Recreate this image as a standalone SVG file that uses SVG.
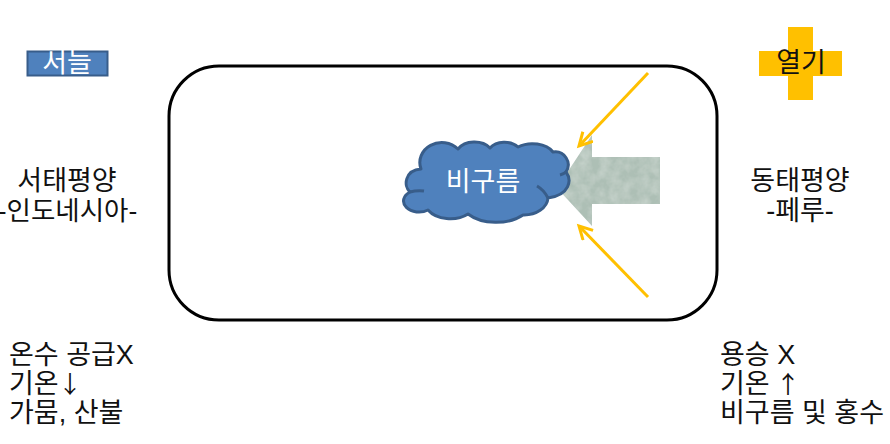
<svg xmlns="http://www.w3.org/2000/svg" width="890" height="444" viewBox="0 0 890 444">
<style>
text{font-family:"Liberation Sans","Noto Sans CJK KR",sans-serif;font-size:27px;fill:#111}
.m{text-anchor:middle}
.w{fill:#fff}
.c{font-family:"Noto Sans CJK KR",sans-serif;font-size:24px}
.y{fill:none;stroke:#ffc000;stroke-width:3;marker-end:url(#a)}
</style>
<defs>
<marker id="a" markerUnits="userSpaceOnUse" markerWidth="20" markerHeight="20" refX="15" refY="8" orient="auto">
<path d="M2 1L15 8L2 15" fill="none" stroke="#ffc000" stroke-width="3"/>
</marker>
<filter id="t" x="0" y="0" width="1" height="1">
<feTurbulence type="fractalNoise" baseFrequency="0.1" numOctaves="3" seed="4"/>
<feColorMatrix values="0 0 0 0 0.74  0 0 0 0 0.80  0 0 0 0 0.76  0.7 0 0 0 -0.2"/>
<feComposite in2="SourceGraphic" operator="in" result="n"/>
<feMerge><feMergeNode in="SourceGraphic"/><feMergeNode in="n"/></feMerge>
</filter>
</defs>
<rect width="890" height="444" fill="#fff"/>
<g id="box"><rect x="169" y="66" width="548" height="254" rx="50" fill="#fff" stroke="#000" stroke-width="3"/></g>
<g id="big-arrow"><path d="M660 157V204H592V226L557 188L592 135V157Z" fill="#adbfb5" filter="url(#t)"/></g>
<g id="cloud">
<path d="M410 192C403 186 405 170 421 169A22 20 0 0 1 458 149A19 14 0 0 1 490 148A17 12 0 0 1 518 147A23 15 0 0 1 553 152A13 13 0 0 1 566 172C572 180 570 195 548 198A24 18 0 0 1 523 215A36 22 0 0 1 468 214A26 18 0 0 1 428 210A14 10 0 0 1 410 192Z" fill="#4f81bd" stroke="#385d8a" stroke-width="3" stroke-linejoin="round"/>
<path d="M410 192Q417 190 424 191M560 175Q564 174 567 171M537 186Q544 190 548 198" fill="none" stroke="#385d8a" stroke-width="3"/>
<text class="m w" x="483" y="191">비구름</text>
</g>
<g id="west-wind"><rect x="27.500" y="51.500" width="80" height="24" fill="#4f81bd" stroke="#385d8a" stroke-width="2"/><text class="m w" x="67" y="72">서늘</text></g>
<g id="heat"><path d="M788 27H813V51H842V76H813V100H788V76H759V51H788Z" fill="#ffc000"/><text class="m" x="801" y="72">열기</text></g>
<g id="west-label"><text class="m" x="67" y="190">서태평양</text><text class="m" x="67.500" y="220" style="font-size:26.500px">-인도네시아-</text></g>
<g id="east-label"><text class="m" x="800" y="190">동태평양</text><text class="m" x="800" y="220">-페루-</text></g>
<g id="west-notes"><text x="9" y="364">온수 공급X</text><text x="9" y="393">기온 <tspan class="c" x="58">↓</tspan></text><text x="9" y="422">가뭄, 산불</text></g>
<g id="east-notes"><text x="720" y="364">용승 X</text><text x="720" y="393">기온 <tspan class="c" x="776">↑</tspan></text><text x="720" y="422">비구름 및 홍수</text></g>
<g id="connectors">
<path class="y" d="M648 73L579 146"/>
<path class="y" d="M648 297L579 226"/>
</g>
</svg>
